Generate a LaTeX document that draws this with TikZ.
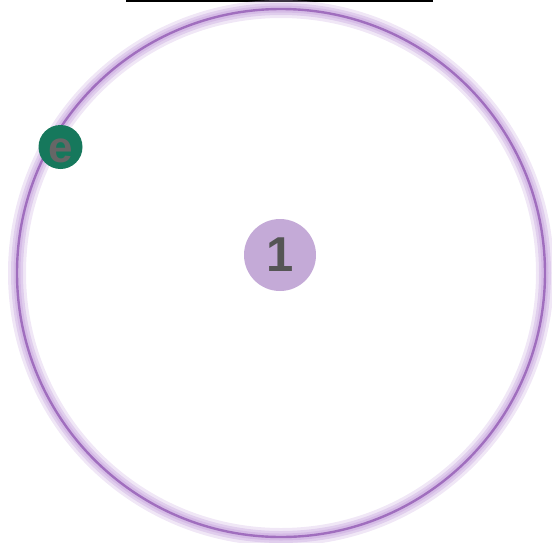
\documentclass[tikz,border=0pt]{standalone}
\usepackage{fontspec}
\setmainfont{Liberation Sans}
\usetikzlibrary{positioning}
\definecolor{orbitglow}{RGB}{205,175,225}
\definecolor{orbitline}{RGB}{160,110,190}
\definecolor{nucleusfill}{RGB}{196,170,215}
\definecolor{electronfill}{RGB}{22,120,92}
\definecolor{labelgray}{RGB}{85,85,85}

\begin{document}
\begin{tikzpicture}[x=1pt, y=-1pt]
            \useasboundingbox (0,0) rectangle (552,542);

            % Top rule
            \draw[line width=2.2pt, black] (126,1.1) -- (433,1.1);

            % Orbit with soft glow
            \coordinate (centre) at (281,273);
            \draw[orbitglow, line width=18pt, opacity=0.3] (centre) circle (264);
            \draw[orbitglow, line width=12pt, opacity=0.45] (centre) circle (264);
            \draw[orbitglow, line width=7pt, opacity=0.6] (centre) circle (264);
            \draw[orbitline, line width=2.4pt] (centre) circle (264);

            % Nucleus
            \node[circle, fill=nucleusfill, minimum size=72pt, inner sep=0pt,
                  text=labelgray, font=\fontsize{49}{49}\selectfont\bfseries] (nucleus) at (280,255) {1};

            % Electron
            \node[circle, fill=electronfill, minimum size=44pt, inner sep=0pt, text height=30pt, text depth=0pt,
                  text=labelgray!90!white, font=\fontsize{44}{44}\selectfont\bfseries] (electron) at (60.5,147) {e};
        \end{tikzpicture}
\end{document}
